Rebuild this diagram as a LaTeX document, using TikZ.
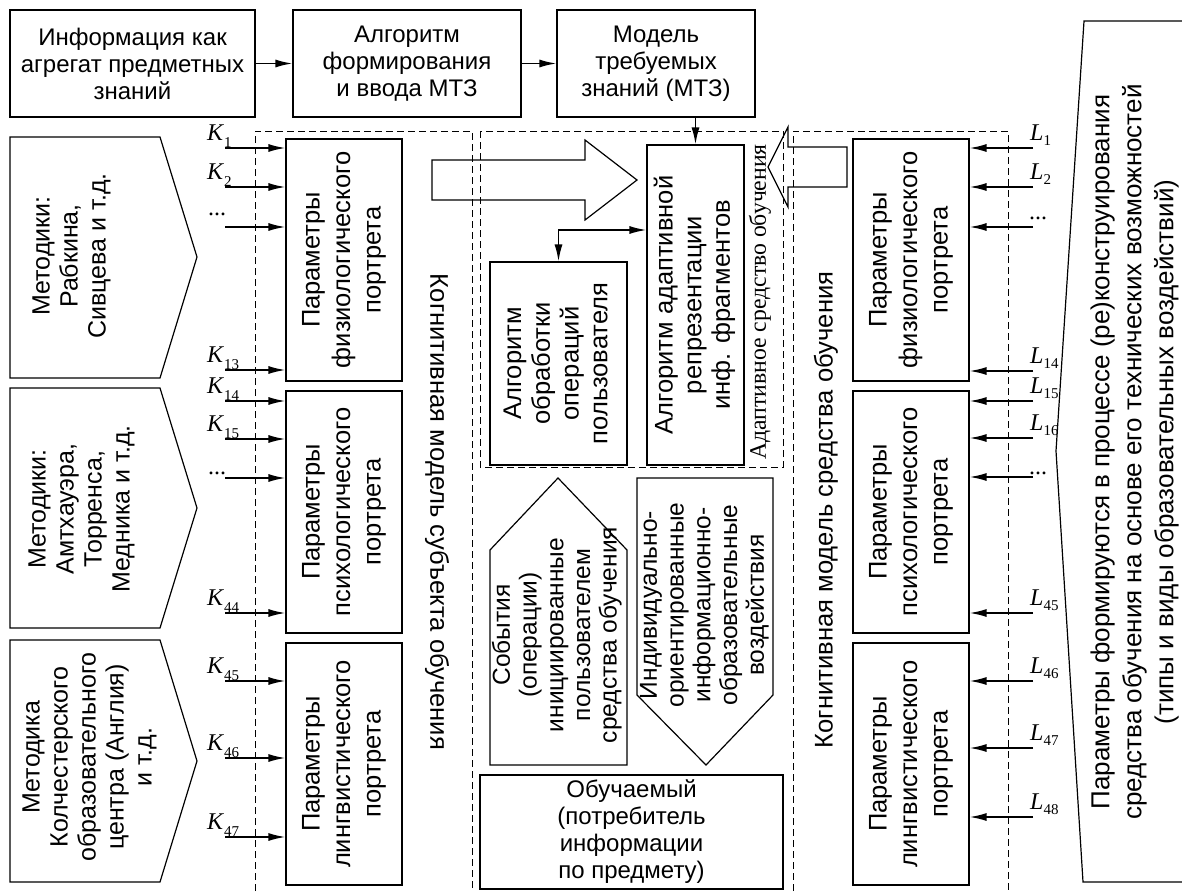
\documentclass[tikz,border=0pt]{standalone}
\usepackage{fontspec}
\setmainfont{Liberation Sans}
\newfontfamily\tms{Liberation Serif}
\usetikzlibrary{arrows.meta}
\newcommand{\fsTop}{\fontsize{24pt}{27pt}\selectfont}
\newcommand{\fsPar}{\fontsize{25.5pt}{30.5pt}\selectfont}
\newcommand{\fsAd}{\fontsize{25.5pt}{28.7pt}\selectfont}
\newcommand{\fsPen}{\fontsize{25pt}{28pt}\selectfont}
\newcommand{\fsEv}{\fontsize{24.5pt}{26.7pt}\selectfont}
\newcommand{\fsCog}{\fontsize{25.6pt}{28pt}\selectfont}
\newcommand{\fsTr}{\fontsize{26pt}{32pt}\selectfont}
\newcommand{\rtup}[1]{\rotatebox{90}{\begin{tabular}{@{}c@{}}#1\end{tabular}}}
\newcommand{\klab}[2]{{\tms\fontsize{24pt}{24pt}\selectfont\itshape #1}\kern1pt\raisebox{-7pt}{\tms\fontsize{15pt}{15pt}\selectfont #2}}
\newcommand{\llab}[2]{{\tms\fontsize{24pt}{24pt}\selectfont\itshape #1}\raisebox{-5pt}{\tms\fontsize{15pt}{15pt}\selectfont #2}}
\tikzset{
  box/.style={draw, line width=1.2pt, inner sep=0pt, font=\fsTop, align=center},
  pbox/.style={box, font=\fsPar, minimum width=116pt, minimum height=242pt},
  txt/.style={inner sep=0pt, align=center},
  dsh/.style={line width=1pt, dash pattern=on 7pt off 4pt},
  arr/.style={line width=1.6pt, -{Latex[length=17pt,width=8pt]}},
  arrb/.style={line width=1.6pt, {Latex[length=17pt,width=8pt]}-{Latex[length=17pt,width=8pt]}},
  shp/.style={line width=1.2pt, line join=miter},
  lab/.style={anchor=base west, inner sep=0pt},
  dots/.style={anchor=base west, inner sep=0pt, font=\tms\fontsize{24pt}{24pt}\selectfont}
}
\begin{document}
\begin{tikzpicture}[x=1pt,y=-1pt]
\useasboundingbox (0,0) rectangle (1182,891);

% dashed frames
\draw[dsh] (255,891) -- (255,131) -- (472,131) -- (472,891);
\draw[dsh] (480,131) rectangle (783,467);
\draw[dsh] (793,891) -- (793,131) -- (1008,131) -- (1008,891);

% top row
\node[box, minimum width=245pt, minimum height=107pt] (info) at (132.5,63.5) {Информация как\\агрегат предметных\\знаний};
\node[box, minimum width=228pt, minimum height=107pt] (formal) at (407,63.5) {Алгоритм\\формирования\\и ввода МТЗ};
\node[box, minimum width=198pt, minimum height=107pt] (mtz) at (656,63.5) {Модель\\требуемых\\знаний (МТЗ)};
\draw[arr] (info.east) -- (formal.west);
\draw[arr] (formal.east) -- (mtz.west);

% left pentagons
\draw[shp] (10,137) -- (160,137) -- (197,257) -- (160,378) -- (10,378) -- cycle;
\draw[shp] (10,388) -- (160,388) -- (197,508) -- (160,628) -- (10,628) -- cycle;
\draw[shp] (10,640) -- (160,640) -- (197,761) -- (160,882) -- (10,882) -- cycle;
\node[txt, font=\fsPen] (p1t) at (72,256) {\rtup{Методики:\\Рабкина,\\Сивцева и т.д.}};
\node[txt, font=\fsPen] (p2t) at (82,509) {\rtup{Методики:\\Амтхауэра,\\Торренса,\\Медника и т.д.}};
\node[txt, font=\fsPen] (p3t) at (90,757) {\rtup{Методика\\Колчестерского\\образовательного\\центра (Англия)\\и т.д.}};

% left boxes
\node[pbox] (lphys) at (344,260) {\rtup{Параметры\\физиологического\\портрета}};
\node[pbox] (lpsy) at (344,512) {\rtup{Параметры\\психологического\\портрета}};
\node[pbox] (lling) at (344,764) {\rtup{Параметры\\лингвистического\\портрета}};

% right boxes
\node[pbox] (rphys) at (911,260) {\rtup{Параметры\\физиологического\\портрета}};
\node[pbox] (rpsy) at (911,512) {\rtup{Параметры\\психологического\\портрета}};
\node[pbox] (rling) at (911,764) {\rtup{Параметры\\лингвистического\\портрета}};

% K arrows
\foreach \n/\y/\b in {1/148/lphys, 2/187/lphys, a/227/lphys, 13/370/lphys, 14/401/lpsy, 15/439/lpsy, b/478/lpsy, 44/613/lpsy, 45/681/lling, 46/758/lling, 47/837/lling} {
  \coordinate (k\n) at (225,\y);
  \draw[arr] (k\n) -- (\b.west |- k\n);
}
\foreach \n/\y in {1/148, 2/187, 13/370, 14/401, 15/439, 44/613, 45/681, 46/758, 47/837} {
  \node[lab] (kl\n) at (207,\y-8) {\klab{K}{\n}};
}
\node[dots] (kda) at (208,215) {...};
\node[dots] (kdb) at (208,474) {...};

% L arrows
\foreach \n/\y/\b in {1/148/rphys, 2/187/rphys, a/227/rphys, 14/371/rphys, 15/401/rpsy, 16/438/rpsy, b/477/rpsy, 45/613/rpsy, 46/681/rling, 47/748/rling, 48/817/rling} {
  \coordinate (l\n) at (1033,\y);
  \draw[arr] (l\n) -- (\b.east |- l\n);
}
\foreach \n/\y in {1/148, 2/187, 14/371, 15/401, 16/438, 45/613, 46/681, 47/748, 48/817} {
  \node[lab] (ll\n) at (1030,\y-8) {\llab{L}{\n}};
}
\node[dots] (lda) at (1029,219) {...};
\node[dots] (ldb) at (1029,474) {...};

% cognitive model labels
\node[txt, font=\fsCog] (cogs) at (437,512) {\rotatebox{-90}{Когнитивная модель субъекта обучения}};
\node[txt, font=\fsCog] (cogt) at (826,510) {\rotatebox{90}{Когнитивная модель средства обучения}};

% adaptive tool
\node[box, font=\fsAd, minimum width=97pt, minimum height=320pt] (adapt) at (695.5,305) {\rtup{Алгоритм адаптивной\\репрезентации\\инф. фрагментов}};
\node[box, font=\fsAd, minimum width=137pt, minimum height=203pt] (obr) at (558.5,363.5) {\rtup{Алгоритм\\обработки\\операций\\пользователя}};
\node[txt, font=\tms\fontsize{23.7pt}{27pt}\selectfont] (adlbl) at (760,302) {\rotatebox{90}{Адаптивное средство обучения}};
\draw[arr] (mtz.south -| adapt.north) -- (adapt.north);
\coordinate (elb) at (obr.north |- 0,230);
\draw[arrb] (obr.north) -- (elb) -- (adapt.west |- elb);

% hollow arrows
\draw[shp] (432,160) -- (585,160) -- (585,140) -- (637,180) -- (585,220) -- (585,200) -- (432,200) -- cycle;
\draw[shp] (847,147) -- (788,147) -- (788,127) -- (768,167) -- (788,207) -- (788,187) -- (847,187) -- cycle;

% events and influences
\draw[shp] (490,765) -- (490,550) -- (558,478) -- (627,550) -- (627,765) -- cycle;
\node[txt, font=\fsEv] (sobt) at (558,635) {\rtup{События\\(операции)\\инициированные\\пользователем\\средства обучения}};
\draw[shp] (637,478) -- (773,478) -- (773,695) -- (706,765) -- (637,695) -- cycle;
\node[txt, font=\fsEv] (indt) at (705,605) {\rtup{Индивидуально-\\ориентированные\\информационно-\\образовательные\\воздействия}};

\node[box, minimum width=303pt, minimum height=114pt] (learner) at (631.5,832) {Обучаемый\\(потребитель\\информации\\по предмету)};

% right big shape
\draw[shp] (1182,21) -- (1084,21) -- (1056,451) -- (1083,882) -- (1182,882);
\node[txt, font=\fsTr] (trt) at (1135,452) {\rtup{Параметры формируются в процессе (ре)конструирования\\средства обучения на основе его технических возможностей\\(типы и виды образовательных воздействий)}};
\end{tikzpicture}
\end{document}
